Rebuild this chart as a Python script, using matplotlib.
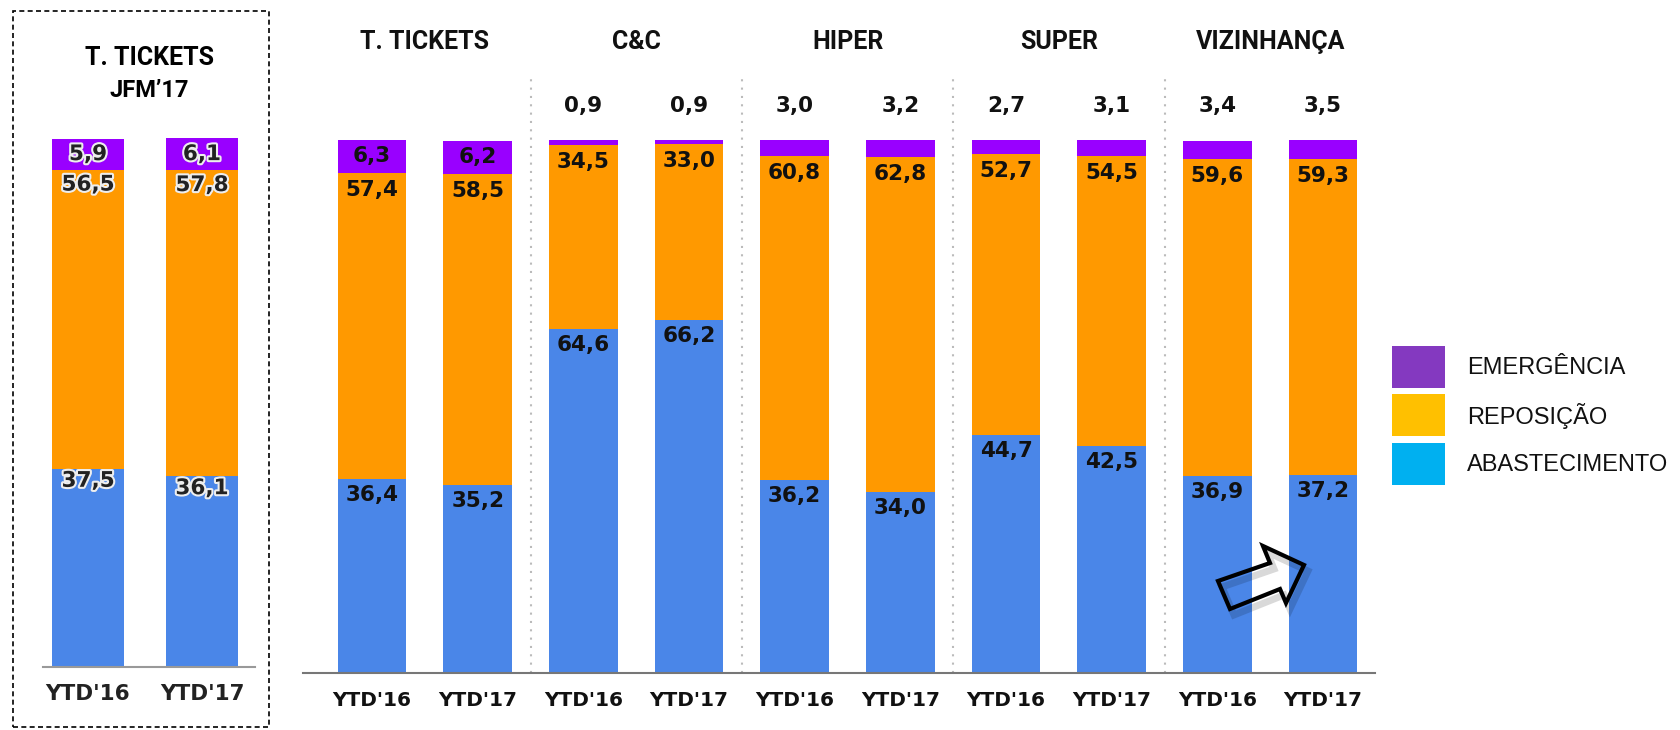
import matplotlib
matplotlib.use("Agg")
import matplotlib.pyplot as plt
import matplotlib.patheffects as pe
from matplotlib.patches import Rectangle, Polygon
import numpy as np

W, H = 1681, 730

# data
periods = ["YTD'16", "YTD'17"]
groups = ["T. TICKETS", "C&C", "HIPER", "SUPER", "VIZINHANÇA"]
abastecimento = [36.4, 35.2, 64.6, 66.2, 36.2, 34.0, 44.7, 42.5, 36.9, 37.2]
reposicao = [57.4, 58.5, 34.5, 33.0, 60.8, 62.8, 52.7, 54.5, 59.6, 59.3]
emergencia = [6.3, 6.2, 0.9, 0.9, 3.0, 3.2, 2.7, 3.1, 3.4, 3.5]

jfm_abastecimento = [37.5, 36.1]
jfm_reposicao = [56.5, 57.8]
jfm_emergencia = [5.9, 6.1]

legend_labels = ["EMERGÊNCIA", "REPOSIÇÃO", "ABASTECIMENTO"]
legend_colors = ["#8439C0", "#FFC000", "#00B0F0"]

c_blue, c_orange, c_purple = "#4A86E8", "#FF9900", "#9900FF"


def fmt(v):
    return f"{v:.1f}".replace('.', ',')


def px_axes(fig, x0, x1, ybase, ytop):
    return fig.add_axes([x0 / W, (H - ybase) / H, (x1 - x0) / W, (ybase - ytop) / H])


def fig_xy(px, py):
    return px / W, 1 - py / H


fig = plt.figure(figsize=(W / 100, H / 100), dpi=100)
fig.patch.set_facecolor('white')

# ---- main panel
ax = px_axes(fig, 303, 1375, 673, 140)
x = np.arange(len(abastecimento))
ab = np.array(abastecimento)
rp = np.array(reposicao)
em = np.array(emergencia)
ax.bar(x, ab, width=0.65, color=c_blue)
ax.bar(x, rp, width=0.65, bottom=ab, color=c_orange)
ax.bar(x, em, width=0.65, bottom=ab + rp, color=c_purple)
ax.set_xlim(-0.653, 9.492)
ax.set_ylim(0, 100)

lab_kw = dict(ha='center', va='center', fontsize=15.5, fontweight='bold',
              family='DejaVu Sans', color='#111111', clip_on=False)
for i in range(len(x)):
    ax.text(x[i], ab[i] - 3.0, fmt(ab[i]), **lab_kw)
    ax.text(x[i], ab[i] + rp[i] - 3.2, fmt(rp[i]), **lab_kw)
    if i < 2:
        ax.text(x[i], ab[i] + rp[i] + em[i] / 2, fmt(em[i]), **lab_kw)
    else:
        ax.text(x[i], 106.4, fmt(em[i]), **lab_kw)

for g, name in enumerate(groups):
    ax.text(2 * g + 0.5, 118.4, name, ha='center', va='center', fontsize=18,
            fontweight='bold', family='Roboto', color='#111111', clip_on=False)
    if g > 0:
        ax.plot([2 * g - 0.5, 2 * g - 0.5], [0, 112], ls=(0, (1, 3)),
                color='#bbbbbb', lw=1.5, clip_on=False)

ax.set_xticks(x)
ax.set_xticklabels(periods * len(groups), fontsize=14.5, fontweight='bold',
                   family='DejaVu Sans', color='#111111')
ax.tick_params(axis='x', length=0, pad=13)
ax.set_yticks([])
for s in ['top', 'left', 'right']:
    ax.spines[s].set_visible(False)
ax.spines['bottom'].set_color('#777777')
ax.spines['bottom'].set_linewidth(1.5)

# ---- left panel (JFM'17)
ax2 = px_axes(fig, 43, 255, 667, 138)
x2 = np.arange(2)
jab = np.array(jfm_abastecimento)
jrp = np.array(jfm_reposicao)
jem = np.array(jfm_emergencia)
ax2.bar(x2, jab, width=0.63, color=c_blue)
ax2.bar(x2, jrp, width=0.63, bottom=jab, color=c_orange)
ax2.bar(x2, jem, width=0.63, bottom=jab + jrp, color=c_purple)
ax2.set_xlim(-0.395, 1.465)
ax2.set_ylim(0, 100)

halo = [pe.withStroke(linewidth=3, foreground='#eeeeee')]
lab2 = dict(ha='center', va='center', fontsize=15.5, fontweight='bold',
            family='DejaVu Sans', color='#222222', clip_on=False, path_effects=halo)
for i in range(2):
    ax2.text(x2[i], jab[i] - 2.3, fmt(jab[i]), **lab2)
    ax2.text(x2[i], jab[i] + jrp[i] - 2.8, fmt(jrp[i]), **lab2)
    ax2.text(x2[i], jab[i] + jrp[i] + jem[i] / 2, fmt(jem[i]), **lab2)

ax2.text(0.54, 115.2, "T. TICKETS", ha='center', va='center', fontsize=18,
         fontweight='bold', family='Roboto', clip_on=False)
ax2.text(0.54, 108.9, "JFM’17", ha='center', va='center', fontsize=17,
         fontweight='bold', family='Roboto', clip_on=False)
ax2.set_xticks(x2)
ax2.set_xticklabels(periods, fontsize=15.5, fontweight='bold',
                    family='DejaVu Sans', color='#222222')
ax2.tick_params(axis='x', length=0, pad=12)
ax2.set_yticks([])
for s in ['top', 'left', 'right']:
    ax2.spines[s].set_visible(False)
ax2.spines['bottom'].set_color('#999999')
ax2.spines['bottom'].set_linewidth(1.5)

# dashed frame around left panel
fig.add_artist(Rectangle(fig_xy(13, 727), 256 / W, 716 / H, fill=False,
                         ec='black', lw=1.2, ls=(0, (3, 2)),
                         transform=fig.transFigure))

# ---- legend (drawn as patches + text to match the square swatches)
sq_tops = [346, 394, 443]
for top, lab, col in zip(sq_tops, legend_labels, legend_colors):
    fig.add_artist(Rectangle(fig_xy(1392, top + 42), 53 / W, 42 / H,
                             fc=col, ec='none', transform=fig.transFigure))
    fig.text(*fig_xy(1467, top + 22), lab, ha='left', va='center',
             fontsize=17, family='Liberation Sans', color='#111111')

# ---- outlined arrow with a soft shadow
arrow_px = [(1218, 581), (1270, 563), (1263, 546), (1304, 565),
            (1286, 603), (1280, 589), (1230, 609)]
shadow = [fig_xy(px + 4, py + 6) for px, py in arrow_px]
pts = [fig_xy(px, py) for px, py in arrow_px]
fig.add_artist(Polygon(shadow, closed=True, fill=False, ec='#000000', lw=5,
                       alpha=0.15, transform=fig.transFigure, joinstyle='miter'))
fig.add_artist(Polygon(pts, closed=True, fill=False, ec='black', lw=3,
                       transform=fig.transFigure, joinstyle='miter'))

fig.savefig("out.png", dpi=100)
